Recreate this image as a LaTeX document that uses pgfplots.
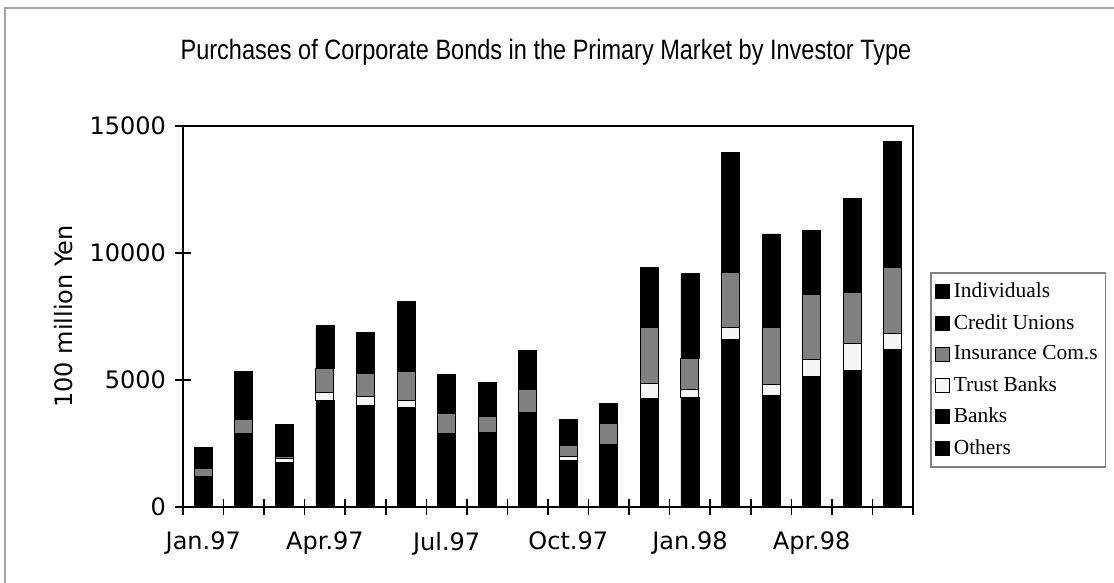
\documentclass[border=0pt]{standalone}
\usepackage{fontspec}
\setmainfont{DejaVu Sans}
\newfontfamily\titlefont[FakeStretch=0.84]{Liberation Sans}
\newfontfamily\legfont{Liberation Serif}
\usepackage{pgfplots}
\pgfplotsset{compat=1.18}
\usepackage{pgfplotstable}
\definecolor{insgray}{gray}{0.5}
\definecolor{trustw}{gray}{0.96}

\pgfplotstableread{
idx Others Banks Trust Ins Credit Indiv
0 350 800 50 300 500 350
1 850 2000 50 550 1100 800
2 500 1250 150 80 750 520
3 1200 3000 300 950 1000 700
4 1100 2900 350 920 950 660
5 1000 2900 300 1130 2130 620
6 800 2050 30 820 900 630
7 800 2100 30 650 800 540
8 1000 2680 30 900 900 640
9 500 1350 130 460 600 410
10 700 1730 30 830 450 330
11 1200 3080 600 2170 1400 980
12 1200 3120 290 1250 2000 1320
13 1800 4780 470 2170 2800 1930
14 1200 3170 440 2240 2200 1500
15 1400 3740 650 2570 1500 1040
16 1500 3870 1060 2000 2200 1520
17 1700 4490 660 2570 2900 2060
}\datatable

\begin{document}
\begin{tikzpicture}[x=1pt,y=1pt]
\useasboundingbox (0,0) rectangle (557,291.5);
\draw[gray!70, line width=1pt] (2.5,0) -- (2.5,287.5) -- (557,287.5);
\node[font=\titlefont\fontsize{14}{16}\selectfont] at (273,265.5) {Purchases of Corporate Bonds in the Primary Market by Investor Type};
\begin{axis}[
 at={(91.5pt,38pt)}, anchor=south west,
 width=365pt, height=190.5pt, scale only axis,
 ybar stacked, bar width=9pt,
 xmin=-0.5, xmax=17.5, ymin=0, ymax=15000,
 ytick={0,5000,10000,15000},
 scaled y ticks=false,
 xtick pos=bottom, ytick pos=left,
 xtick={-0.5,0.5,...,17.5}, xticklabels={},
 extra x ticks={0,3,6,9,12,15},
 extra x tick labels={Jan.97,Apr.97,Jul.97,Oct.97,Jan.98,Apr.98},
 extra x tick style={major tick length=0pt, xticklabel style={anchor=north, yshift=-9pt}},
 tick align=center, major tick length=8pt,
 axis line style={line width=1pt},
 tick style={black, line width=0.8pt},
 /pgf/number format/assume math mode=true,
 /pgf/number format/1000 sep={},
 ticklabel style={font=\fontsize{12}{14}\selectfont},
 yticklabel style={anchor=east, xshift=-1pt},
 ylabel={100 million Yen},
 ylabel style={at={(axis description cs:-0.164,0.5)}, anchor=center, font=\fontsize{12}{14}\selectfont},
 legend style={at={(1.0233,0.6168)}, anchor=north west, font=\legfont\fontsize{10.7}{13}\selectfont, draw=gray, line width=0.8pt, row sep=2.8pt, cells={anchor=west}, inner xsep=2pt, inner ysep=3pt},
 reverse legend,
 legend image code/.code={\draw[#1, draw=black, line width=0.5pt] (0pt,-3.5pt) rectangle (7pt,3.5pt);},
]
\addplot[fill=black, draw=black] table[x=idx,y=Others]{\datatable};
\addplot[fill=black, draw=black] table[x=idx,y=Banks]{\datatable};
\addplot[fill=trustw, draw=black, line width=0.5pt] table[x=idx,y=Trust]{\datatable};
\addplot[fill=insgray, draw=black, line width=0.5pt] table[x=idx,y=Ins]{\datatable};
\addplot[fill=black, draw=black] table[x=idx,y=Credit]{\datatable};
\addplot[fill=black, draw=black] table[x=idx,y=Indiv]{\datatable};
\legend{Others,Banks,Trust Banks,Insurance Com.s,Credit Unions,Individuals}
\end{axis}
\end{tikzpicture}
\end{document}
